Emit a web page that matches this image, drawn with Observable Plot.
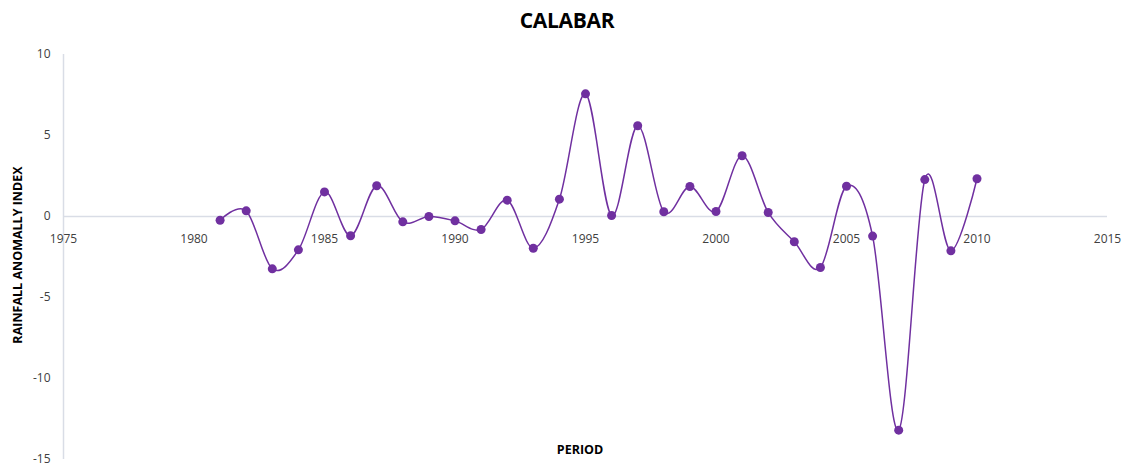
<!DOCTYPE html>
<html><head><meta charset="utf-8">
<script src="https://cdn.jsdelivr.net/npm/d3@7"></script>
<script src="https://cdn.jsdelivr.net/npm/@observablehq/plot@0.6"></script>
<style>
body{margin:0;background:#fff;font-family:"Open Sans",sans-serif;}
#title{height:38px;line-height:41px;text-align:center;font-weight:bold;font-size:21px;color:#000;letter-spacing:-0.3px;}
</style></head><body>
<div id="title">CALABAR</div>
<div id="chart"></div>
<script>
const years = [1981,1982,1983,1984,1985,1986,1987,1988,1989,1990,1991,1992,1993,1994,1995,1996,1997,1998,1999,2000,2001,2002,2003,2004,2005,2006,2007,2008,2009,2010];
const rai = [-0.23,0.35,-3.23,-2.06,1.52,-1.19,1.90,-0.33,0.00,-0.27,-0.80,1.01,-1.96,1.07,7.57,0.06,5.60,0.29,1.85,0.31,3.75,0.25,-1.56,-3.15,1.87,-1.21,-13.19,2.28,-2.12,2.33];
const xTicks = [1975,1980,1985,1990,1995,2000,2005,2010,2015];
const yTicks = [-15,-10,-5,0,5,10];
const yTitle = "RAINFALL ANOMALLY INDEX";
const xTitle = "PERIOD";

const data = years.map((year,i)=>({year, rai: rai[i]}));

const plot = Plot.plot({
  width:1134, height:431, marginLeft:63, marginRight:27, marginTop:16, marginBottom:10,
  style:{fontFamily:"Open Sans", fontSize:"12px", color:"#404040", background:"#fff"},
  x:{domain:[1975,2015], axis:null},
  y:{domain:[-15,10], axis:null},
  marks:[
    Plot.ruleY([0], {x1:1975, x2:2015, stroke:"#d9dde6", strokeWidth:1.3}),
    Plot.ruleX([1975], {y1:-15, y2:10, stroke:"#d9dde6", strokeWidth:1.5}),
    Plot.axisY(yTicks, {tickSize:0, tickPadding:13, label:null, tickFormat:d=>String(d), fill:"#404040"}),
    Plot.text(xTicks, {x:d=>d, y:0, dy:23, text:d=>String(d), fill:"#404040"}),
    Plot.line(data, {x:"year", y:"rai", curve:"cardinal", stroke:"#7030a0", strokeWidth:1.5}),
    Plot.dot(data, {x:"year", y:"rai", r:4.5, fill:"#7030a0"}),
    Plot.text([yTitle], {frameAnchor:"left", textAnchor:"middle", dx:-46, dy:-2, rotate:-90, fontWeight:"bold", fontSize:12.5, fill:"#000"}),
    Plot.text([xTitle], {frameAnchor:"bottom", dy:-6, dx:-5.5, fontWeight:"bold", fontSize:12.5, fill:"#000"})
  ]
});
document.getElementById("chart").appendChild(plot);
</script>
</body></html>
